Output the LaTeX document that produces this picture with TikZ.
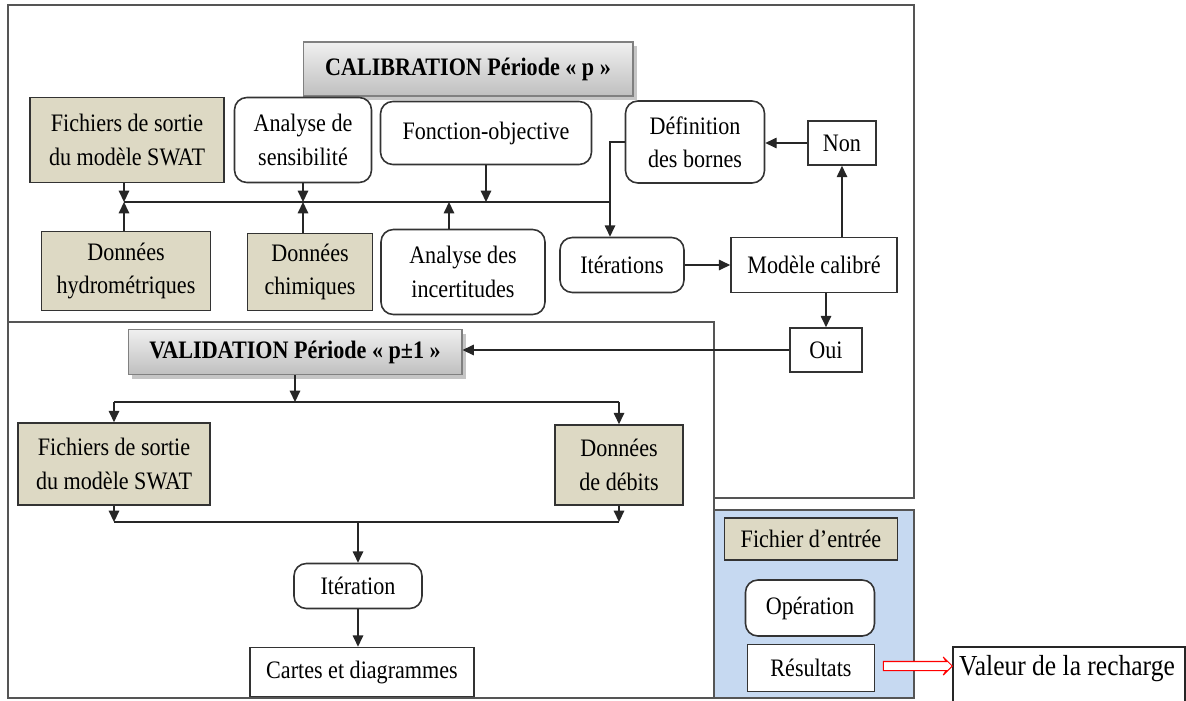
\documentclass[tikz,border=0pt]{standalone}
\usepackage{fontspec}
\setmainfont{Liberation Serif}[FakeStretch=0.88]
\usetikzlibrary{arrows.meta,shadows,shapes.arrows,positioning}
\definecolor{boxtan}{HTML}{DDD9C4}
\definecolor{panelblue}{HTML}{C6D9F1}
\definecolor{framegray}{HTML}{555555}

\begin{document}
\begin{tikzpicture}[x=0.02cm, y=-0.02cm,
    every node/.style={font=\fontsize{14.3}{19}\selectfont, align=center, inner sep=2pt},
    tanbox/.style={draw=black!80, line width=0.9pt, fill=boxtan},
    plainbox/.style={draw=black!80, line width=0.9pt, fill=white},
    roundbox/.style={draw=black!80, line width=0.9pt, fill=white, rounded corners=7pt},
    titlebox/.style={draw=gray, line width=0.6pt, top color=gray!12, bottom color=gray!50,
        font=\bfseries\fontsize{14.3}{19}\selectfont,
        drop shadow={shadow xshift=2.5pt, shadow yshift=-2.5pt, opacity=0.45}},
    arr/.style={draw=black!85, line width=0.8pt, -{Triangle[length=6.5pt,width=6pt]}},
    link/.style={draw=black!85, line width=0.8pt}]

    \useasboundingbox (0,0) rectangle (1186,700);

    % frames
    \draw[framegray, line width=1.1pt] (8,5) rectangle (914,498);
    \draw[framegray, line width=1.1pt, fill=white] (8,322) rectangle (714,698);
    \draw[framegray, line width=1.1pt, fill=panelblue] (714,510) rectangle (914,698);

    % calibration
    \node[titlebox, minimum width=6.6cm, minimum height=1.08cm] (calib) at (468,69) {CALIBRATION Période « p »};
    \node[tanbox, minimum width=3.88cm, minimum height=1.7cm] (fich1) at (127,140) {Fichiers de sortie\\du modèle SWAT};
    \node[roundbox, minimum width=2.74cm, minimum height=1.7cm] (sens) at (303,140) {Analyse de\\sensibilité};
    \node[roundbox, minimum width=4.22cm, minimum height=1.26cm] (fonct) at (486,133) {Fonction-objective};
    \node[roundbox, minimum width=2.78cm, minimum height=1.64cm] (defin) at (695,142) {Définition\\des bornes};
    \node[plainbox, minimum width=1.36cm, minimum height=0.88cm] (non) at (842,143) {Non};
    \node[tanbox, minimum width=3.38cm, minimum height=1.58cm] (hydro) at (126,271) {Données\\hydrométriques};
    \node[tanbox, minimum width=2.5cm, minimum height=1.54cm] (chim) at (310,272) {Données\\chimiques};
    \node[roundbox, minimum width=3.28cm, minimum height=1.7cm] (incert) at (463,272) {Analyse des\\incertitudes};
    \node[roundbox, minimum width=2.48cm, minimum height=1.1cm] (iter) at (622,265) {Itérations};
    \node[plainbox, minimum width=3.32cm, minimum height=1.1cm] (modele) at (814,265) {Modèle calibré};
    \node[plainbox, minimum width=1.44cm, minimum height=0.88cm] (oui) at (826,350) {Oui};

    \coordinate (busL) at (124,202);
    \coordinate (busR) at (610,202);
    \draw[link] (busL) -- (busR);
    \draw[arr] (fich1.south -| busL) -- (busL);
    \draw[arr] (hydro.north -| busL) -- (busL);
    \draw[arr] (sens.south) -- (sens.south |- busL);
    \draw[arr] (sens.south |- chim.north) -- (sens.south |- busL);
    \draw[arr] (fonct.south) -- (fonct.south |- busL);
    \draw[arr] ([xshift=-0.28cm]incert.north) -- ([xshift=-0.28cm]incert.north |- busL);
    \draw[arr] (defin.west) -| (busR |- iter.north);
    \draw[arr] (iter) -- (modele);
    \draw[arr] (modele.north -| non) -- (non.south);
    \draw[arr] (non.west) -- (non.west -| defin.east);
    \draw[arr] (modele.south -| oui) -- (oui.north);

    % validation
    \node[titlebox, minimum width=6.68cm, minimum height=0.9cm] (valid) at (295,352) {VALIDATION Période « p±1 »};
    \node[tanbox, minimum width=3.84cm, minimum height=1.64cm] (fich2) at (114,464) {Fichiers de sortie\\du modèle SWAT};
    \node[tanbox, minimum width=2.56cm, minimum height=1.6cm] (debits) at (619,465) {Données\\de débits};
    \node[roundbox, minimum width=2.56cm, minimum height=0.9cm] (iteration) at (358,586) {Itération};
    \node[plainbox, minimum width=4.48cm, minimum height=0.98cm] (cartes) at (362,672) {Cartes et diagrammes};

    \draw[arr] (oui.west) -- (oui.west -| valid.east);
    \coordinate (vbus) at (295,402);
    \draw[arr] (valid.south) -- (vbus);
    \draw[link] (vbus -| fich2) -- (vbus -| debits);
    \draw[arr] (vbus -| fich2) -- (fich2.north);
    \draw[arr] (vbus -| debits) -- (debits.north);
    \coordinate (lbus) at (358,522);
    \draw[link] (lbus -| fich2) -- (lbus -| debits);
    \draw[arr] (fich2.south) -- (lbus -| fich2);
    \draw[arr] (debits.south) -- (lbus -| debits);
    \draw[arr] (lbus) -- (iteration.north);
    \draw[arr] (iteration.south) -- (iteration.south |- cartes.north);

    % model panel
    \node[tanbox, minimum width=3.46cm, minimum height=0.84cm] (entree) at (811,539) {Fichier d’entrée};
    \node[roundbox, minimum width=2.58cm, minimum height=1.12cm] (operation) at (810,608) {Opération};
    \node[plainbox, minimum width=2.54cm, minimum height=0.94cm] (resultats) at (811,668) {Résultats};

    \node[font=\fontsize{16.5}{19}\selectfont] (recharge) at (1067,669) {Valeur de la recharge};
    \draw[black!85, line width=0.9pt] (953,705) |- (1185,647) -- (1185,705);
    \node[single arrow, draw=red, fill=white, line width=0.6pt, inner sep=0.8mm,
        minimum height=1.38cm, single arrow head extend=0.9mm, single arrow head indent=0.6mm,
        anchor=east] (redarr) at (953,666) {};
\end{tikzpicture}
\end{document}
